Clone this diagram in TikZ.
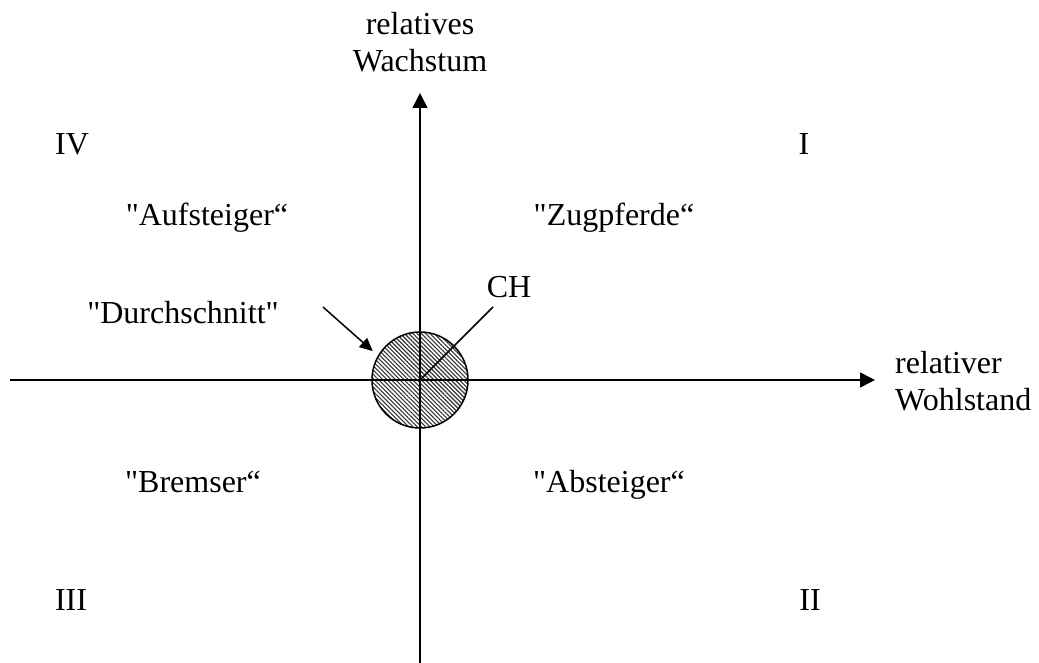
\documentclass[tikz,border=0pt]{standalone}
\usepackage{fontspec}
\setmainfont{Liberation Serif}[Ligatures=TeXOff]
\usetikzlibrary{arrows.meta,patterns.meta}
\begin{document}
\begin{tikzpicture}[x=1pt,y=-1pt,
  lbl/.style={anchor=base,inner sep=0pt,font=\fontsize{32}{37}\selectfont},
  axis/.style={line width=1.5pt,-{Triangle[length=15pt,width=15pt]}},
  ptr/.style={line width=1.5pt,-{Triangle[length=13pt,width=12pt]}},
  avg/.style={circle,draw,line width=1.5pt,minimum size=96pt,inner sep=0pt,
    pattern={Lines[angle=-45,distance=3pt,line width=1.1pt]},pattern color=black!80}]
\useasboundingbox (0,0) rectangle (1039,663);
\fill[white] (0,0) rectangle (1039,663);
% circle
\node[avg] (c) at (420,380) {};
% axes
\coordinate (xs) at (10,380);
\coordinate (xe) at (875,380);
\coordinate (ys) at (420,663);
\coordinate (ye) at (420,93);
\draw[axis] (xs) -- (xe);
\draw[axis] (ys) -- (ye);
% labels
\node[lbl,align=center] (ylab) at (420,72) {relatives\\Wachstum};
\node[lbl,align=left,anchor=base west] (xlab) at (895,410) {relativer\\Wohlstand};
\node[lbl] (q4) at (72,155) {IV};
\node[lbl] (q1) at (804,155) {I};
\node[lbl] (q3) at (71,610) {III};
\node[lbl] (q2) at (810,610) {II};
\node[lbl] (auf) at (207,226) {"Aufsteiger“};
\node[lbl] (zug) at (614,226) {"Zugpferde“};
\node[lbl] (bre) at (193,492) {"Bremser“};
\node[lbl] (abs) at (609,492) {"Absteiger“};
\node[lbl] (dur) at (183,323) {"Durchschnitt"};
\node[lbl] (ch) at (509,298) {CH};
% CH pointer line
\coordinate (chend) at (493,307);
\draw[line width=1.5pt] (c.center) -- (chend);
% Durchschnitt arrow
\coordinate (dstart) at (323,307);
\draw[ptr,shorten >=7pt] (dstart) -- (c.150);
\end{tikzpicture}
\end{document}
